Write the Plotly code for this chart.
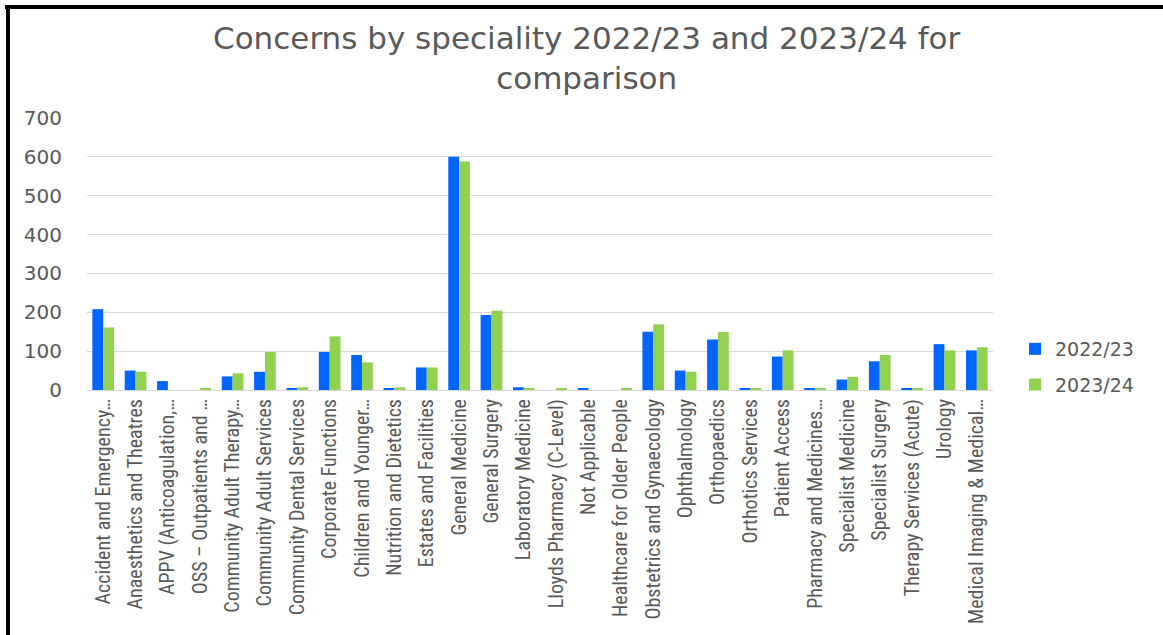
import plotly.graph_objects as go

categories = [
    "Accident and Emergency…",
    "Anaesthetics and Theatres",
    "APPV (Anticoagulation,…",
    "OSS – Outpatients and …",
    "Community Adult Therapy…",
    "Community Adult Services",
    "Community Dental Services",
    "Corporate Functions",
    "Children and Younger…",
    "Nutrition and Dietetics",
    "Estates and Facilities",
    "General Medicine",
    "General Surgery",
    "Laboratory Medicine",
    "Lloyds Pharmacy (C-Level)",
    "Not Applicable",
    "Healthcare for Older People",
    "Obstetrics and Gynaecology",
    "Ophthalmology",
    "Orthopaedics",
    "Orthotics Services",
    "Patient Access",
    "Pharmacy and Medicines…",
    "Specialist Medicine",
    "Specialist Surgery",
    "Therapy Services (Acute)",
    "Urology",
    "Medical Imaging & Medical…",
]

values_2022_23 = [208, 50, 23, 0, 35, 47, 3, 98, 90, 3, 58, 600, 193, 7, 0, 3, 0, 150, 50, 130, 3, 86, 3, 27, 74, 3, 118, 102]
values_2023_24 = [161, 47, 0, 4, 43, 98, 7, 138, 71, 7, 58, 588, 204, 3, 3, 0, 3, 169, 47, 149, 3, 102, 3, 34, 90, 3, 102, 110]

series_names = ["2022/23", "2023/24"]
colors = ["#0066FF", "#92D050"]

title_text = "Concerns by speciality 2022/23 and 2023/24 for<br>comparison"

W, H = 1163, 635
L, R, T, B = 87, 993, 118, 390

fig = go.Figure()
for name, vals, col in zip(series_names, [values_2022_23, values_2023_24], colors):
    fig.add_trace(go.Bar(x=categories, y=vals, name=name, marker_color=col,
                         marker_line_width=0, legendgroup=name))

def px(xp):
    return (xp - L) / (R - L)

def py(yp):
    return (B - yp) / (B - T)

grey = "#595959"
narrow = "Liberation Sans Narrow, Arial Narrow, Roboto Condensed, DejaVu Sans Condensed, Roboto"
fig.update_layout(
    width=W, height=H,
    margin=dict(l=L, r=W - R, t=T, b=H - B, pad=0),
    paper_bgcolor="white", plot_bgcolor="white",
    barmode="group", bargap=0.33, bargroupgap=0,
    annotations=[
        dict(text=title_text, xref="paper", yref="paper", x=px(587), y=py(58),
             xanchor="center", yanchor="middle", showarrow=False,
             font=dict(family="DejaVu Sans", size=31, color=grey)),
    ],
    font=dict(family="DejaVu Sans", color=grey),
    legend=dict(
        x=px(1015), xanchor="left", y=py(330), yanchor="top",
        font=dict(family="DejaVu Sans", size=19, color=grey),
        bgcolor="rgba(0,0,0,0)", itemwidth=30,
        traceorder="grouped", tracegroupgap=8,
    ),
    showlegend=True,
    xaxis=dict(
        type="category", tickangle=-90,
        tickfont=dict(family=narrow, size=20, color=grey),
        showline=True, linecolor="#d9d9d9", linewidth=1,
        ticks="", showgrid=False,
    ),
    yaxis=dict(
        range=[0, 700], dtick=100, tick0=0,
        tickfont=dict(family="DejaVu Sans", size=20, color=grey),
        showgrid=True, gridcolor="#d9d9d9", gridwidth=1,
        zeroline=False, showline=False, ticks="", ticklabelstandoff=24,
    ),
    shapes=[
        dict(type="line", xref="paper", yref="paper", x0=px(5), x1=px(W), y0=py(7), y1=py(7),
             line=dict(color="black", width=4)),
        dict(type="line", xref="paper", yref="paper", x0=px(8), x1=px(8), y0=py(5), y1=py(H),
             line=dict(color="black", width=4)),
    ],
)

fig.write_html("out.html")
